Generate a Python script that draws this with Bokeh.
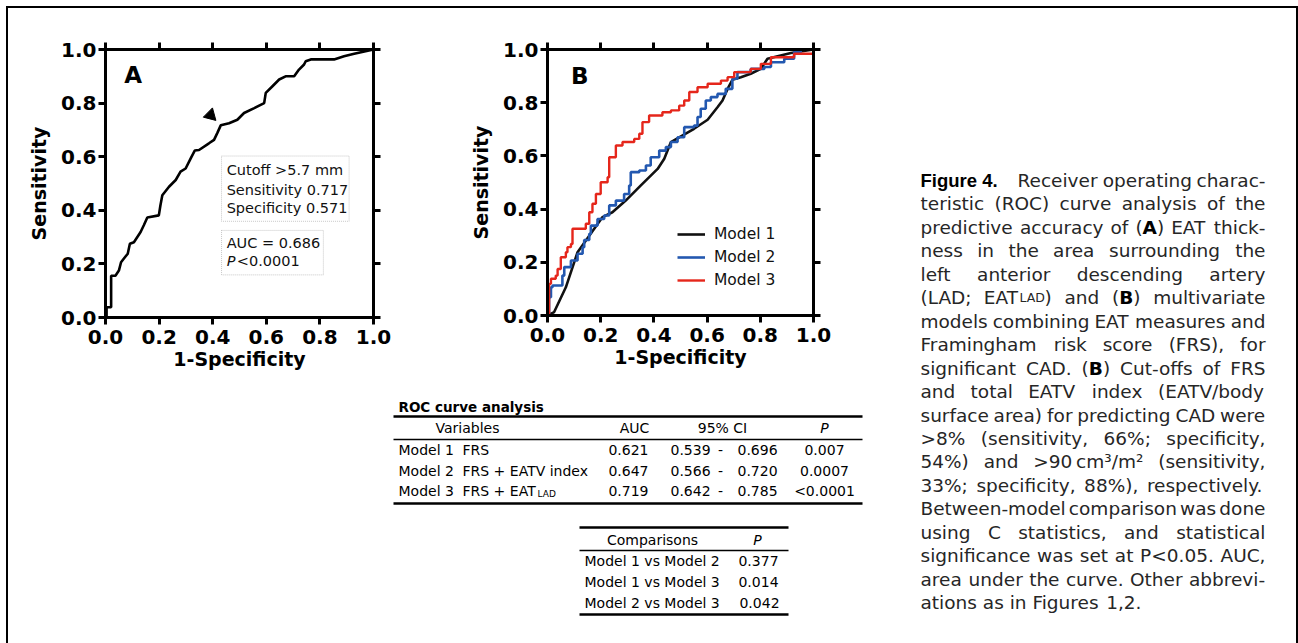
import math
from bokeh.plotting import figure
from bokeh.models import (Range1d, LinearAxis, FixedTicker, PrintfTickFormatter,
                          Legend, LegendItem, BoxAnnotation, Spacer)
from bokeh.layouts import row, column
from bokeh.core.properties import value
from bokeh.embed import file_html
from bokeh.resources import INLINE

FONT = "DejaVu Sans"

# ---------------- data: panel A ----------------
a_fpr = [0.0, 0.004, 0.004, 0.021, 0.021, 0.037, 0.05, 0.058, 0.068, 0.083, 0.091, 0.106,
         0.131, 0.143, 0.156, 0.199, 0.205, 0.212, 0.237, 0.262, 0.280, 0.299, 0.318, 0.333,
         0.349, 0.386, 0.405, 0.417, 0.430, 0.461, 0.492, 0.517, 0.555, 0.592, 0.598, 0.623,
         0.648, 0.672, 0.704, 0.722, 0.741, 0.747, 0.766, 0.853, 0.890, 0.928, 1.0]
a_tpr = [0.0, 0.0, 0.038, 0.038, 0.156, 0.156, 0.175, 0.206, 0.219, 0.238, 0.275, 0.281,
         0.319, 0.344, 0.373, 0.381, 0.419, 0.456, 0.488, 0.513, 0.544, 0.556, 0.594, 0.623,
         0.625, 0.65, 0.663, 0.688, 0.717, 0.725, 0.738, 0.763, 0.781, 0.8, 0.838, 0.863,
         0.888, 0.9, 0.9, 0.925, 0.944, 0.956, 0.963, 0.963, 0.975, 0.984, 1.0]
cut_fpr = [0.392]
cut_tpr = [0.755]
a_label = "A"
a_box1 = ["Cutoff >5.7 mm", "Sensitivity 0.717", "Specificity 0.571"]
a_box2_auc = "AUC = 0.686"
a_box2_p = ["P", "<0.0001"]

# ---------------- data: panel B ----------------
m1_fpr = [0.0, 0.025, 0.069, 0.113, 0.157, 0.207, 0.244, 0.294, 0.351, 0.414, 0.439, 0.464,
          0.495, 0.551, 0.602, 0.639, 0.658, 0.677, 0.695, 0.727, 0.764, 0.802, 0.827, 0.865,
          0.915, 1.0]
m1_tpr = [0.0, 0.013, 0.106, 0.238, 0.30, 0.37, 0.388, 0.432, 0.489, 0.551, 0.589, 0.652,
          0.67, 0.702, 0.736, 0.783, 0.808, 0.852, 0.886, 0.896, 0.909, 0.927, 0.965, 0.975,
          0.987, 1.0]
m2_fpr = [0.0, 0.006, 0.013, 0.019, 0.05, 0.056, 0.063, 0.081, 0.088, 0.107, 0.113, 0.132,
          0.138, 0.157, 0.163, 0.188, 0.213, 0.232, 0.257, 0.288, 0.307, 0.313, 0.345, 0.370,
          0.388, 0.42, 0.445, 0.464, 0.489, 0.514, 0.551, 0.564, 0.576, 0.595, 0.614, 0.639,
          0.67, 0.695, 0.714, 0.764, 0.815, 0.84, 0.89, 0.927, 0.952, 1.0]
m2_tpr = [0.0, 0.069, 0.106, 0.113, 0.113, 0.15, 0.182, 0.182, 0.207, 0.207, 0.232, 0.257,
          0.284, 0.307, 0.338, 0.363, 0.376, 0.414, 0.432, 0.457, 0.489, 0.539, 0.545, 0.564,
          0.595, 0.62, 0.633, 0.652, 0.67, 0.708, 0.714, 0.746, 0.777, 0.808, 0.821, 0.833,
          0.852, 0.89, 0.915, 0.927, 0.934, 0.952, 0.965, 0.99, 1.0, 1.0]
m3_fpr = [0.0, 0.006, 0.013, 0.031, 0.038, 0.05, 0.069, 0.075, 0.088, 0.094, 0.125, 0.144,
          0.157, 0.169, 0.182, 0.2, 0.226, 0.232, 0.257, 0.282, 0.326, 0.345, 0.357, 0.382,
          0.432, 0.464, 0.495, 0.514, 0.533, 0.564, 0.602, 0.652, 0.677, 0.702, 0.764, 0.802,
          0.84, 0.927, 1.0]
m3_tpr = [0.0, 0.119, 0.138, 0.15, 0.175, 0.219, 0.238, 0.257, 0.269, 0.326, 0.326, 0.345,
          0.388, 0.42, 0.457, 0.501, 0.52, 0.595, 0.639, 0.652, 0.664, 0.683, 0.727, 0.752,
          0.764, 0.771, 0.789, 0.808, 0.84, 0.858, 0.871, 0.883, 0.896, 0.915, 0.927, 0.946,
          0.971, 0.984, 1.0]
b_label = "B"
model_names = ["Model 1", "Model 2", "Model 3"]
model_colors = ["#111111", "#2358b0", "#e5261b"]

# ---------------- data: tables ----------------
tbl_title = "ROC curve analysis"
tbl_headers = ["Variables", "AUC", "95% CI", "P"]
tbl_vars = ["FRS", "FRS + EATV index", "FRS + EAT"]
tbl_var_sub = ["", "", "LAD"]
tbl_auc = ["0.621", "0.647", "0.719"]
tbl_ci_lo = ["0.539", "0.566", "0.642"]
tbl_ci_hi = ["0.696", "0.720", "0.785"]
tbl_p = ["0.007", "0.0007", "<0.0001"]
cmp_headers = ["Comparisons", "P"]
cmp_labels = ["Model 1 vs Model 2", "Model 1 vs Model 3", "Model 2 vs Model 3"]
cmp_p = ["0.377", "0.014", "0.042"]

# ---------------- data: caption ----------------
caption_label = "Figure 4."
caption_lines = [
    "Receiver operating charac-",
    "teristic (ROC) curve analysis of the",
    "predictive accuracy of (*A*) EAT thick-",
    "ness in the area surrounding the",
    "left anterior descending artery",
    "(LAD; EAT_LAD_) and (*B*) multivariate",
    "models combining EAT measures and",
    "Framingham risk score (FRS), for",
    "significant CAD. (*B*) Cut-offs of FRS",
    "and total EATV index (EATV/body",
    "surface area) for predicting CAD were",
    ">8% (sensitivity, 66%; specificity,",
    "54%) and >90\u2009cm\u00b3/m\u00b2 (sensitivity,",
    "33%; specificity, 88%), respectively.",
    "Between-model comparison was done",
    "using C statistics, and statistical",
    "significance was set at P<0.05. AUC,",
    "area under the curve. Other abbrevi-",
    "ations as in Figures 1,2.",
]

TICKS = [0.0, 0.2, 0.4, 0.6, 0.8, 1.0]


def roc_figure(fw, fh, bl, br, bt, bb):
    p = figure(frame_width=fw, frame_height=fh, x_range=Range1d(0, 1), y_range=Range1d(0, 1),
               min_border_left=bl, min_border_right=br, min_border_top=bt, min_border_bottom=bb,
               output_backend="svg", toolbar_location=None,
               x_axis_label="1-Specificity", y_axis_label="Sensitivity")
    p.add_layout(LinearAxis(), "above")
    p.add_layout(LinearAxis(), "right")
    p.xgrid.visible = False
    p.ygrid.visible = False
    p.outline_line_color = None
    for ax in p.axis:
        ax.ticker = FixedTicker(ticks=TICKS)
        ax.formatter = PrintfTickFormatter(format="%.1f")
        ax.axis_line_width = 3
        ax.axis_line_color = "black"
        ax.axis_line_cap = "square"
        ax.major_tick_line_width = 3
        ax.major_tick_line_color = "black"
        ax.major_tick_in = 0
        ax.major_tick_out = 7
        ax.minor_tick_line_color = None
        ax.major_label_text_font = FONT
        ax.major_label_text_font_style = "bold"
        ax.major_label_text_font_size = "20px"
        ax.major_label_text_color = "black"
        ax.axis_label_text_font = FONT
        ax.axis_label_text_font_style = "bold"
        ax.axis_label_text_font_size = "19px"
        ax.axis_label_text_color = "black"
    for ax in list(p.above) + list(p.right):
        ax.major_label_text_color = None
        ax.major_label_standoff = 0
    p.left[0].major_label_standoff = 2
    p.left[0].axis_label_standoff = 8
    p.below[0].major_label_standoff = 5
    p.below[0].axis_label_standoff = 1
    return p


# ---------------- panel A ----------------
pA = roc_figure(268, 268, 97, 75, 39, 75)
pA.line(a_fpr, a_tpr, line_color="black", line_width=2.6)
pA.scatter(cut_fpr, cut_tpr, marker="triangle", size=13, angle=-2.35,
           fill_color="black", line_color="black")
pA.text([0.07], [0.905], text=[a_label], text_font=value(FONT), text_font_style="bold",
        text_font_size="23px", text_baseline="alphabetic", text_color="black")
pA.add_layout(BoxAnnotation(left=0.433, right=0.909, bottom=0.359, top=0.6025,
                            fill_color=None, line_color="#444444", line_dash="1 1", line_width=1))
pA.add_layout(BoxAnnotation(left=0.433, right=0.813, bottom=0.159, top=0.325,
                            fill_color=None, line_color="#444444", line_dash="1 1", line_width=1))
pA.text([0.452, 0.452, 0.452], [0.549, 0.477, 0.409], text=a_box1, text_font=value(FONT),
        text_font_size="14.5px", text_baseline="alphabetic", text_color="#111111")
pA.text([0.452], [0.277], text=[a_box2_auc], text_font=value(FONT),
        text_font_size="14.5px", text_baseline="alphabetic", text_color="#111111")
pA.text([0.452], [0.212], text=[a_box2_p[0]], text_font=value(FONT), text_font_style="italic",
        text_font_size="14.5px", text_baseline="alphabetic", text_color="#111111")
pA.text([0.49], [0.212], text=[a_box2_p[1]], text_font=value(FONT),
        text_font_size="14.5px", text_baseline="alphabetic", text_color="#111111")

# ---------------- panel B ----------------
pB = roc_figure(266, 266, 99, 65, 41, 75)
r1 = pB.line(m1_fpr, m1_tpr, line_color=model_colors[0], line_width=2.6)
r2 = pB.step(m2_fpr, m2_tpr, mode="after", line_color=model_colors[1], line_width=2.6)
r3 = pB.step(m3_fpr, m3_tpr, mode="after", line_color=model_colors[2], line_width=2.4)
pB.text([0.088], [0.901], text=[b_label], text_font=value(FONT), text_font_style="bold",
        text_font_size="23px", text_baseline="alphabetic", text_color="black")
leg = Legend(items=[LegendItem(label=n, renderers=[r]) for n, r in zip(model_names, [r1, r2, r3])],
             location=(130, 25), padding=0, margin=0, spacing=3, glyph_width=28,
             glyph_height=20, label_height=20, label_standoff=9,
             label_text_font=FONT, label_text_font_size="15.5px", label_text_color="#111111",
             border_line_color=None, background_fill_alpha=0)
pB.add_layout(leg)


def canvas(w, h, x0, x1, y0, y1):
    c = figure(width=w, height=h, x_range=Range1d(x0, x1), y_range=Range1d(y1, y0),
               output_backend="svg", toolbar_location=None, min_border=0,
               x_axis_location=None, y_axis_location=None)
    c.xgrid.visible = False
    c.ygrid.visible = False
    c.outline_line_color = None
    return c


DY = -6  # text baseline correction

# ---------------- tables (page pixel coordinates) ----------------
pT = canvas(870, 253, 8, 878, 390, 643)
TS = "14px"
pT.text([398], [412 + DY], text=[tbl_title], text_font=value(FONT), text_font_style="bold",
        text_font_size="13.5px", text_baseline="alphabetic", text_color="black")
pT.segment(x0=[393, 393, 393], x1=[862, 862, 862], y0=[416, 439, 503], y1=[416, 439, 503],
           line_color="black", line_width=[2.4, 1.3, 2.4])
hy = 433 + DY
pT.text([467, 634, 722], [hy] * 3, text=tbl_headers[:3], text_font=value(FONT),
        text_font_size=TS, text_align="center", text_baseline="alphabetic", text_color="black")
pT.text([824], [hy], text=[tbl_headers[3]], text_font=value(FONT), text_font_style="italic",
        text_font_size=TS, text_align="center", text_baseline="alphabetic", text_color="black")
row_y = [455.5 + DY, 476 + DY, 496.5 + DY]
pT.text([398] * 3, row_y, text=model_names, text_font=value(FONT), text_font_size=TS,
        text_baseline="alphabetic", text_color="black")
pT.text([462] * 3, row_y, text=tbl_vars, text_font=value(FONT), text_font_size=TS,
        text_baseline="alphabetic", text_color="black")
pT.text([537] * 3, [y + 3 for y in row_y], text=tbl_var_sub, text_font=value(FONT),
        text_font_size="9px", text_baseline="alphabetic", text_color="black")
pT.text([648] * 3, row_y, text=tbl_auc, text_font=value(FONT), text_font_size=TS,
        text_align="right", text_baseline="alphabetic", text_color="black")
pT.text([670] * 3, row_y, text=tbl_ci_lo, text_font=value(FONT), text_font_size=TS,
        text_baseline="alphabetic", text_color="black")
pT.text([720] * 3, row_y, text=["-"] * 3, text_font=value(FONT), text_font_size=TS,
        text_align="center", text_baseline="alphabetic", text_color="black")
pT.text([737] * 3, row_y, text=tbl_ci_hi, text_font=value(FONT), text_font_size=TS,
        text_baseline="alphabetic", text_color="black")
pT.text([824] * 3, row_y, text=tbl_p, text_font=value(FONT), text_font_size=TS,
        text_align="center", text_baseline="alphabetic", text_color="black")

pT.segment(x0=[579, 579, 579], x1=[788, 788, 788], y0=[527, 550, 614], y1=[527, 550, 614],
           line_color="black", line_width=[2.4, 1.3, 2.4])
pT.text([652], [545 + DY], text=[cmp_headers[0]], text_font=value(FONT), text_font_size=TS,
        text_align="center", text_baseline="alphabetic", text_color="black")
pT.text([757], [545 + DY], text=[cmp_headers[1]], text_font=value(FONT), text_font_style="italic",
        text_font_size=TS, text_align="center", text_baseline="alphabetic", text_color="black")
cmp_y = [566 + DY, 587 + DY, 608 + DY]
pT.text([584] * 3, cmp_y, text=cmp_labels, text_font=value(FONT), text_font_size=TS,
        text_baseline="alphabetic", text_color="black")
pT.text([758, 758, 759], cmp_y, text=cmp_p, text_font=value(FONT), text_font_size=TS,
        text_align="center", text_baseline="alphabetic", text_color="black")

# ---------------- caption (justified, word by word) ----------------
W_REG = {' ': 0.318, '!': 0.401, '%': 0.950, '(': 0.390, ')': 0.390, '+': 0.838, ',': 0.318,
         '-': 0.361, '.': 0.318, '/': 0.337, ':': 0.337, ';': 0.337, '<': 0.838, '=': 0.838,
         '>': 0.838, '\u2009': 0.2, '\u00b2': 0.401, '\u00b3': 0.401}
for d in "0123456789":
    W_REG[d] = 0.636
W_REG.update(dict(A=.684, B=.686, C=.698, D=.770, E=.632, F=.575, G=.775, H=.752, I=.295,
                  J=.295, K=.656, L=.557, M=.863, N=.748, O=.787, P=.603, Q=.787, R=.695,
                  S=.635, T=.611, U=.732, V=.684, W=.989, X=.685, Y=.611, Z=.685))
W_REG.update(dict(a=.613, b=.635, c=.550, d=.635, e=.615, f=.352, g=.635, h=.634, i=.278,
                  j=.278, k=.579, l=.278, m=.974, n=.634, o=.612, p=.635, q=.635, r=.411,
                  s=.521, t=.392, u=.634, v=.592, w=.818, x=.592, y=.592, z=.525))
W_BOLD = {'A': 0.774, 'B': 0.762, '(': 0.457, ')': 0.457}
CAP_SIZE = 18.5
SMALL_SIZE = 12.5


def parse_word(w):
    segs, style, buf = [], 'r', ''
    for ch in w:
        if ch in '*_':
            if buf:
                segs.append((buf, style))
                buf = ''
            tgt = 'b' if ch == '*' else 's'
            style = 'r' if style == tgt else tgt
        else:
            buf += ch
    if buf:
        segs.append((buf, style))
    return segs


def seg_w(t, st):
    if st == 'b':
        return sum(W_BOLD.get(ch, W_REG.get(ch, 0.6)) for ch in t) * CAP_SIZE
    size = SMALL_SIZE if st == 's' else CAP_SIZE
    return sum(W_REG.get(ch, 0.6) for ch in t) * size


out = {'r': ([], [], []), 'b': ([], [], []), 's': ([], [], [])}
LEFT, RIGHT = 920, 1265
BASE0, LSTEP = 187 + DY - 1, 23.45
for i, line in enumerate(caption_lines):
    words = [parse_word(w) for w in line.split(' ')]
    widths = [sum(seg_w(t, st) for t, st in wd) for wd in words]
    left = 1017 if i == 0 else LEFT
    if i == len(caption_lines) - 1:
        gap = W_REG[' '] * CAP_SIZE
    else:
        gap = (RIGHT - left - sum(widths)) / (len(words) - 1)
    x = left
    yb = BASE0 + i * LSTEP
    for wd, ww in zip(words, widths):
        xx = x
        for t, st in wd:
            out[st][0].append(xx)
            out[st][1].append(yb)
            out[st][2].append(t)
            xx += seg_w(t, st)
        x += ww + gap

pC = canvas(418, 635, 878, 1296, 8, 643)
pC.text([LEFT], [BASE0], text=[caption_label], text_font=value("Liberation Sans"),
        text_font_style="bold", text_font_size="18.5px", text_baseline="alphabetic",
        text_color="black")
pC.text(out['r'][0], out['r'][1], text=out['r'][2], text_font=value(FONT),
        text_font_size=f"{CAP_SIZE}px", text_baseline="alphabetic", text_color="#262626")
pC.text(out['b'][0], out['b'][1], text=out['b'][2], text_font=value(FONT),
        text_font_style="bold", text_font_size=f"{CAP_SIZE}px", text_baseline="alphabetic",
        text_color="black")
pC.text(out['s'][0], out['s'][1], text=out['s'][2], text_font=value(FONT),
        text_font_size=f"{SMALL_SIZE}px", text_baseline="alphabetic", text_color="#262626")

# ---------------- layout with the outer frame ----------------
BLACK = {"background-color": "#000000"}
inner = column(
    Spacer(width=1292, height=2, styles=BLACK),
    row(Spacer(width=2, height=635, styles=BLACK),
        column(row(pA, pB), pT),
        pC,
        Spacer(width=2, height=635, styles=BLACK)),
)
layout = column(Spacer(width=1298, height=6), row(Spacer(width=6, height=637), inner))

open("out.html", "w").write(file_html(layout, INLINE))
